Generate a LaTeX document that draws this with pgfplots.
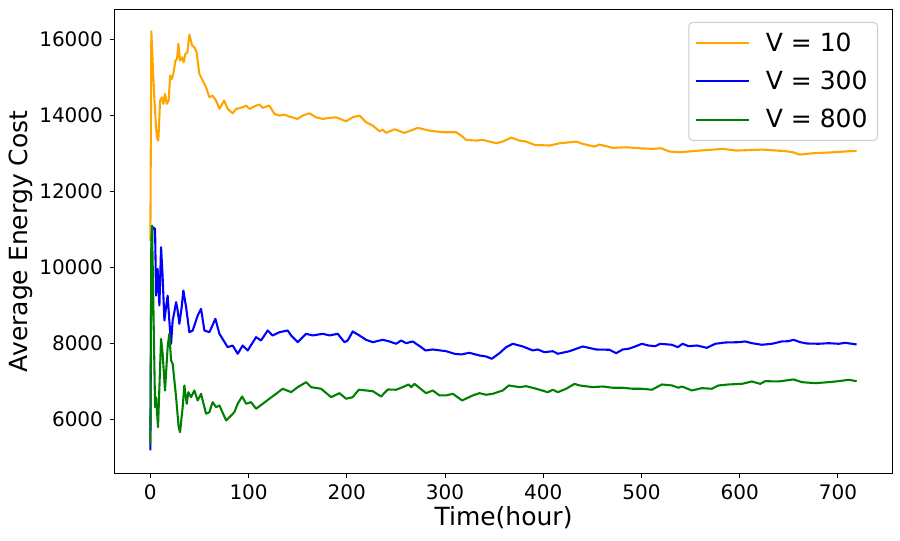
\documentclass[border=0pt]{standalone}
\usepackage{fontspec}
\setmainfont{DejaVu Sans}
\usepackage{pgfplots}
\pgfplotsset{compat=1.18}
\definecolor{mplorange}{HTML}{FFA500}
\definecolor{mplgreen}{HTML}{008000}
\definecolor{mplblue}{HTML}{0000FF}
\begin{document}
\begin{tikzpicture}
\begin{axis}[
  scale only axis, width=388.5pt, height=231.5pt,
  xmin=-36, xmax=755, ymin=4590, ymax=16780,
  xtick={0,100,...,700}, ytick={6000,8000,...,16000},
  scaled y ticks=false, scaled x ticks=false,
  /pgf/number format/1000 sep={},
  /pgf/number format/assume math mode=true,
  tick align=outside, tick pos=left, major tick length=2.5pt,
  every tick/.style={line width=0.5pt, black},
  axis line style={line width=0.5pt},
  ticklabel style={font=\fontsize{10}{12}\selectfont},
  xlabel={Time(hour)}, ylabel={Average Energy Cost},
  label style={font=\fontsize{12.5}{15}\selectfont},
  x label style={at={(axis description cs:0.5,0)}, anchor=center, yshift=-22.5pt},
  y label style={at={(axis description cs:0,0.5)}, anchor=center, yshift=47pt},
  legend style={at={(1,1)}, anchor=north east, xshift=-7pt, yshift=-6pt,
    font=\fontsize{12.5}{15}\selectfont, draw=black!20, line width=0.5pt,
    rounded corners=2pt, fill=white, fill opacity=0.8, text opacity=1,
    row sep=4.3pt, inner xsep=3pt, inner ysep=3pt,
    /tikz/every odd column/.append style={column sep=6pt}},
  legend cell align=left,
  legend image code/.code={\draw[#1, line width=1.04pt] (0pt,0pt) -- (26.5pt,0pt);},
  every axis plot/.append style={line width=1.04pt, line join=round},
  clip=true,
]
\addplot[mplorange] coordinates {
(0,10700) (1,16220) (2,15600) (4,14482) (5.8,13692) (7,13400) (8.1,13342) (9.9,14395) (11.9,14480) (13.2,14308) (15,14571)
(16.6,14308) (18.6,14395) (20.2,15053) (22.1,14966) (23.7,15140) (25.5,15447) (27.2,15492) (28.5,15887)
(30.2,15447) (32.3,15535) (33.9,15403) (35.6,15623) (37.7,15666) (39.7,16132) (42.5,15842) (44.8,15798)
(47.1,15666) (49.9,15097) (53.3,14921) (56.7,14745) (60.1,14482) (63.4,14526) (66.9,14395) (70.3,14176)
(75.1,14395) (78.7,14176) (83.8,14061) (87.3,14176) (94,14218) (97.5,14263) (100.8,14176) (107.6,14263)
(111,14289) (114.4,14203) (121.2,14263) (126.3,14045) (131.4,14000) (136.5,14026) (141.5,13974) (150,13913)
(155.1,14000) (161.9,14061) (168.7,13955) (175.5,13913) (182.3,13939) (189.1,13955) (199.3,13850) (206,13955)
(212.8,14000) (219.6,13824) (226.4,13737) (233.2,13587) (236.6,13624) (240,13545) (248.5,13640) (258.7,13545)
(272.2,13676) (284.1,13605) (297.7,13561) (311.3,13561) (316.4,13474) (321.5,13360) (331.7,13342) (338.4,13360)
(352,13271) (358.8,13316) (367.3,13421) (375.8,13342) (382.6,13316) (391,13229) (406.3,13211) (416.5,13271)
(426.7,13297) (433.5,13316) (440.2,13255) (452.1,13184) (457.2,13237) (470.8,13150) (484.4,13166) (497.9,13140)
(511.5,13123) (520,13140) (528.5,13053) (538.7,13034) (559,13079) (582.8,13123) (596.4,13079) (623.5,13105)
(647.4,13061) (654.1,13034) (660.9,12974) (674.4,13008) (694.8,13034) (710,13060) (719,13070)
};
\addlegendentry{V = 10}
\addplot[mplblue] coordinates {
(0,5184) (1,10400) (2.3,11061) (4.8,11018) (5.8,9263) (7.4,9966) (9.2,9000) (10.9,10534) (12.5,9745) (14.3,8605)
(16,8955) (17.6,9263) (19.3,8605) (21.1,7992) (22.7,8605) (24.4,8824) (26.2,9087) (27.8,8868) (29.5,8518)
(31.9,8955) (33.6,9395) (36.4,8955) (39.7,8297) (43.1,8342) (48.2,8737) (51.6,8913) (55,8342) (60.1,8297)
(66.2,8650) (70.3,8255) (78.7,7903) (83.8,7947) (88.9,7729) (94,7947) (99.1,7816) (107.6,8166) (112.7,8079)
(119.5,8342) (124.5,8211) (131.4,8297) (139.8,8342) (143.3,8211) (150,8034) (158.6,8255) (165.3,8211)
(175.5,8255) (182.3,8211) (190.7,8255) (197.6,8034) (200.9,8079) (206,8316) (212.8,8211) (219.6,8097)
(226.4,8034) (236.6,8097) (243.4,8053) (250.2,7992) (255.3,8079) (260.4,8008) (267.1,8053) (275.7,7903)
(280,7816) (287.5,7842) (301.1,7797) (309.6,7729) (316.4,7711) (324.8,7755) (335,7684) (341.8,7658)
(347.6,7597) (355.4,7745) (362.2,7903) (369,7992) (379.2,7921) (389.3,7816) (394.4,7842) (401.2,7771)
(409.7,7797) (414.8,7729) (426.7,7797) (440.2,7921) (453.8,7842) (467.4,7834) (474.2,7745) (480.9,7842)
(486.8,7860) (493.6,7921) (500.3,7992) (507.1,7947) (514,7929) (519,7992) (530.9,7966) (537,7903)
(541.8,7992) (547.9,7929) (556.4,7947) (566.5,7886) (575.1,7992) (585.2,8026) (598.8,8034) (605.6,8053)
(612.3,8008) (622.5,7966) (632.7,7992) (642.9,8053) (649.7,8061) (654.8,8097) (661.6,8034) (668.4,8000)
(680.4,7992) (690.6,8008) (700.8,7992) (707.5,8018) (719,7974)
};
\addlegendentry{V = 300}
\addplot[mplgreen] coordinates {
(0,5330) (1,10700) (1.7,11105) (4.8,6324) (5.8,6587) (7.8,5797) (10.9,8124) (12.5,7729) (14.9,6763) (17.6,7903)
(19.3,8255) (21.1,7553) (22.7,7466) (26.2,6587) (28.8,5797) (30.2,5666) (32.9,6324) (34.6,6895) (37,6413)
(38.7,6718) (41.4,6587) (44.8,6763) (48.2,6500) (51.6,6676) (56.7,6150) (60.1,6192) (63.4,6455) (66.9,6324)
(70.3,6368) (77.1,5974) (82.2,6105) (85.5,6192) (88.9,6413) (93.4,6605) (97.5,6413) (102.5,6455) (107.6,6282)
(114.4,6413) (121.2,6545) (128,6676) (134.7,6808) (143.3,6718) (150,6850) (158.6,6982) (163.7,6850)
(173.8,6808) (184,6587) (192.5,6692) (199.3,6545) (206,6587) (212.2,6782) (226.4,6745) (234.9,6605)
(241.7,6789) (250.2,6782) (255.3,6834) (263,6921) (265.5,6850) (268.8,6937) (280.7,6692) (287.5,6763)
(294.3,6632) (301.1,6632) (307.9,6676) (317.4,6500) (328.2,6632) (335,6692) (341.8,6650) (348.6,6676)
(358.8,6763) (364.9,6895) (375.8,6850) (382.6,6876) (392.8,6808) (404.6,6718) (409.7,6782) (414.8,6718)
(423.3,6808) (431.8,6937) (436.9,6895) (450.5,6850) (460.7,6868) (470.8,6834) (481,6834) (491.1,6808)
(500.3,6808) (510.5,6782) (520.7,6921) (530.9,6895) (537.7,6834) (541.1,6868) (551.3,6763) (561.5,6824)
(571.6,6808) (578.4,6895) (588.6,6921) (602.2,6937) (612.3,7000) (620.9,6937) (626,7008) (639.6,7000)
(654.8,7053) (663.3,6982) (676.9,6955) (690.6,6982) (700.8,7008) (711,7044) (719,7008)
};
\addlegendentry{V = 800}
\coordinate (bl) at (rel axis cs:0,0);
\coordinate (tr) at (rel axis cs:1,1);
\end{axis}
\path ([shift={(-57.5pt,-34pt)}]bl) rectangle ([shift={(4pt,5pt)}]tr);
\end{tikzpicture}
\end{document}
